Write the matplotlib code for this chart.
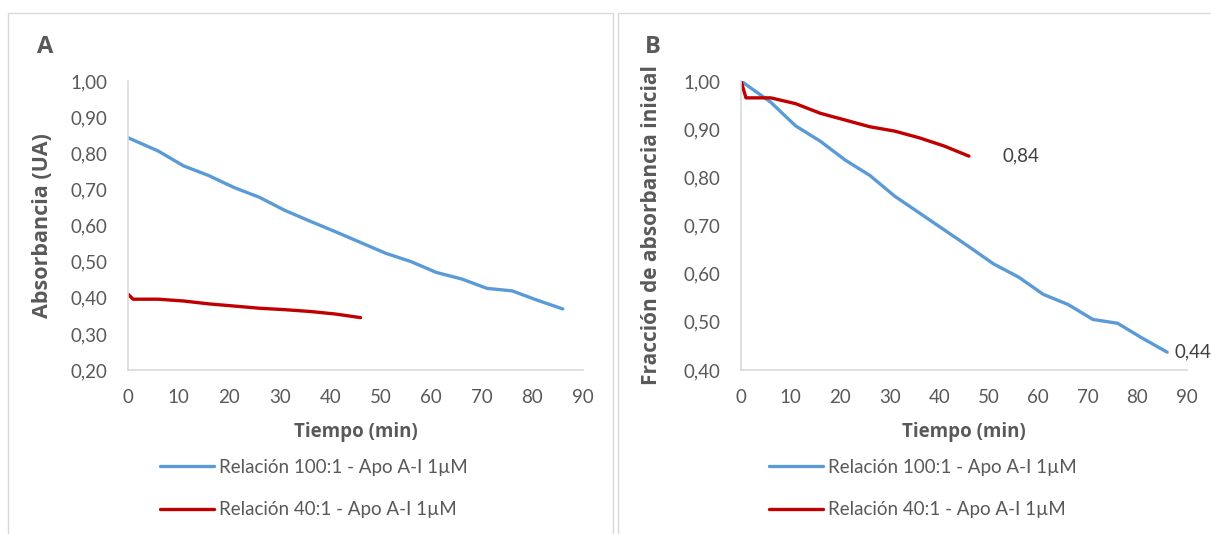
import matplotlib.pyplot as plt
from matplotlib.patches import Rectangle
from matplotlib.ticker import FuncFormatter

plt.rcParams['font.family'] = ['Lato', 'DejaVu Sans']

# sampling times (min)
t_100 = [0, 6, 11, 16, 21, 26, 31, 36, 41, 46, 51, 56, 61, 66, 71, 76, 81, 86]
t_40 = [0, 1, 6, 11, 16, 21, 26, 31, 36, 41, 46]

# panel A: absorbance (UA)
abs_100 = [0.843, 0.806, 0.765, 0.738, 0.705, 0.678, 0.642, 0.612, 0.583,
           0.553, 0.523, 0.500, 0.470, 0.452, 0.426, 0.419, 0.393, 0.369]
abs_40 = [0.410, 0.396, 0.396, 0.391, 0.383, 0.377, 0.371, 0.367, 0.362,
          0.355, 0.345]

# panel B: fraction of initial absorbance
frac_100 = [1.000, 0.956, 0.907, 0.875, 0.836, 0.804, 0.761, 0.726, 0.691,
            0.656, 0.620, 0.593, 0.557, 0.536, 0.505, 0.497, 0.466, 0.437]
frac_40 = [1.000, 0.965, 0.965, 0.953, 0.933, 0.919, 0.905, 0.896, 0.882,
           0.865, 0.844]

labels = ['Relación 100:1 - Apo A-I 1µM', 'Relación 40:1 - Apo A-I 1µM']
BLUE = '#5B9BD5'
RED = '#C00000'
GREY = '#595959'
LINE = '#D9D9D9'
BOLD = ['Open Sans', 'DejaVu Sans']

W, H = 1211, 534
fig = plt.figure(figsize=(W / 100, H / 100), dpi=100)

# panel frames
fig.patches.append(Rectangle((8 / W, -0.1), 605 / W, 1.1 - 13 / H, transform=fig.transFigure,
                             fill=False, edgecolor=LINE, lw=1))
fig.patches.append(Rectangle((618 / W, -0.1), 700 / W, 1.1 - 13 / H, transform=fig.transFigure,
                             fill=False, edgecolor=LINE, lw=1))


def fmt(v, pos):
    return f'{v:.2f}'.replace('.', ',')


def make_axes(left, right, ylim, ylabel, ysize):
    ax = fig.add_axes([left / W, 1 - 370 / H, (right - left) / W, (370 - 81) / H])
    ax.set_xlim(0, 90)
    ax.set_ylim(*ylim)
    ax.set_xticks(range(0, 91, 10))
    ax.yaxis.set_major_formatter(FuncFormatter(fmt))
    for s in ['top', 'right']:
        ax.spines[s].set_visible(False)
    for s in ['left', 'bottom']:
        ax.spines[s].set_color(LINE)
        ax.spines[s].set_linewidth(1.2)
    ax.tick_params(length=0, colors=GREY, labelsize=13.5)
    ax.tick_params(axis='x', pad=14)
    ax.tick_params(axis='y', pad=15)
    ax.set_xlabel('Tiempo (min)', fontsize=13.5, fontweight='bold', family=BOLD,
                  color=GREY, labelpad=11)
    ax.set_ylabel(ylabel, fontsize=ysize, fontweight='bold', family=BOLD, color=GREY)
    return ax


axA = make_axes(128, 583, (0.2, 1.0), 'Absorbancia (UA)', 15.5)
axA.set_yticks([0.2, 0.3, 0.4, 0.5, 0.6, 0.7, 0.8, 0.9, 1.0])
lA1, = axA.plot(t_100, abs_100, color=BLUE, lw=2.4, solid_capstyle='round')
lA2, = axA.plot(t_40, abs_40, color=RED, lw=2.4, solid_capstyle='round')
axA.yaxis.set_label_coords(-0.165, 0.5)

axB = make_axes(741, 1187, (0.4, 1.0), 'Fracción de absorbancia inicial', 15)
axB.set_yticks([0.4, 0.5, 0.6, 0.7, 0.8, 0.9, 1.0])
lB1, = axB.plot(t_100, frac_100, color=BLUE, lw=2.4, solid_capstyle='round')
lB2, = axB.plot(t_40, frac_40, color=RED, lw=2.4, solid_capstyle='round')
axB.yaxis.set_label_coords(-0.177, 0.5)

# end-point data labels
axB.annotate(fmt(frac_40[-1], 0), (t_40[-1], frac_40[-1]), xytext=(24, 0),
             textcoords='offset points', va='center', ha='left', fontsize=13.5, color='#404040',
             annotation_clip=False)
axB.annotate(fmt(frac_100[-1], 0), (t_100[-1], frac_100[-1]), xytext=(5, 0),
             textcoords='offset points', va='center', ha='left', fontsize=13.5, color='#404040',
             annotation_clip=False)

# panel letters
fig.text(45 / W, 1 - 47 / H, 'A', fontsize=17, fontweight='bold', family=BOLD, color=GREY,
         va='center', ha='center')
fig.text(653 / W, 1 - 47 / H, 'B', fontsize=17, fontweight='bold', family=BOLD, color=GREY,
         va='center', ha='center')

# legends
for lines, x0 in [((lA1, lA2), 160), ((lB1, lB2), 769)]:
    fig.legend(lines, labels, loc='upper left', bbox_to_anchor=(x0 / W, 1 - 459 / H),
               frameon=False, fontsize=13.5, labelcolor=GREY, handlelength=2.9,
               handletextpad=0.25, labelspacing=1.35, borderpad=0, borderaxespad=0)

fig.savefig('out.png', dpi=100)
